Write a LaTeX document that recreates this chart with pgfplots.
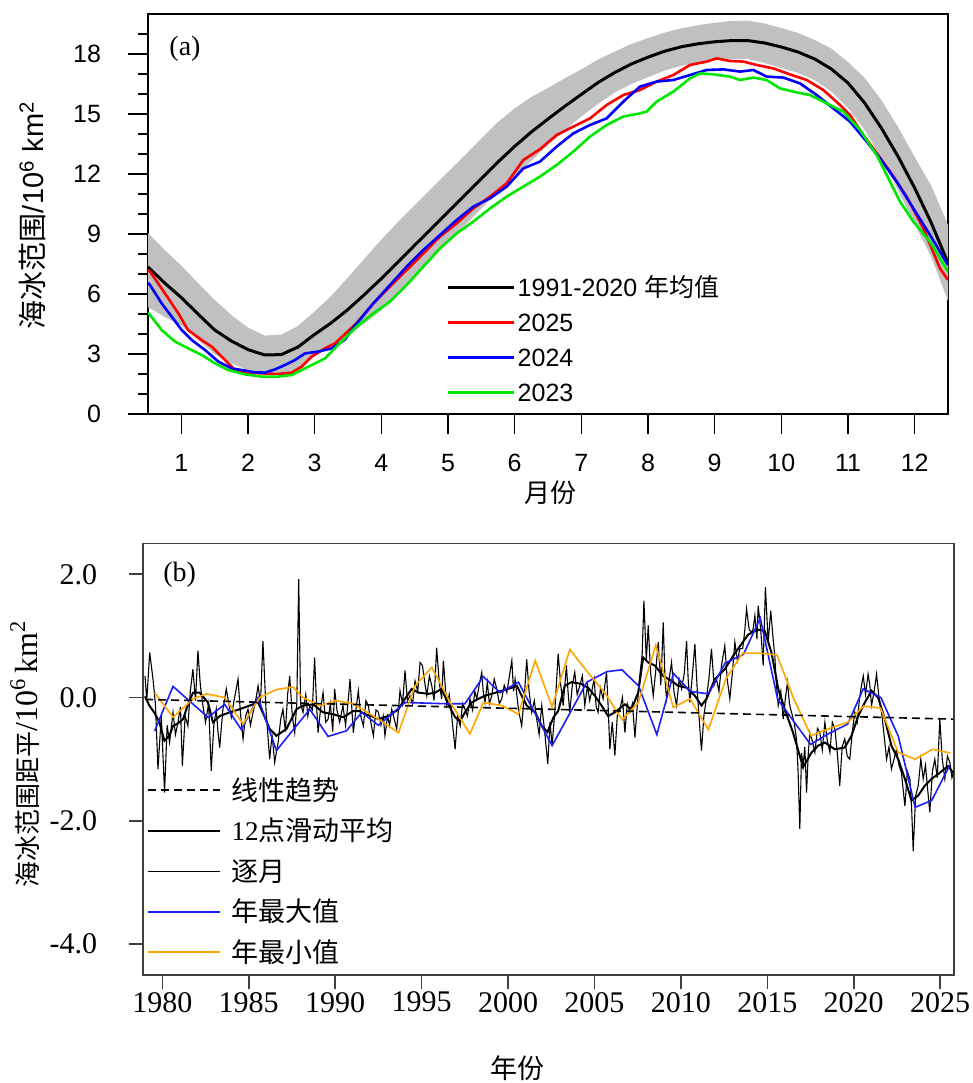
\documentclass[border=0pt]{standalone}
\usepackage{fontspec}
\setmainfont{Liberation Serif}
\setsansfont{Liberation Sans}
\newfontfamily\cjk{Noto Sans CJK SC}
\usepackage{pgfplots}
\pgfplotsset{compat=1.18}
\usepgfplotslibrary{fillbetween}

\definecolor{bandgray}{RGB}{192,192,192}
\definecolor{yred}{RGB}{255,0,0}
\definecolor{yblue}{RGB}{0,0,255}
\definecolor{ygreen}{RGB}{0,232,0}
\definecolor{maxblue}{RGB}{30,30,245}
\definecolor{minorange}{RGB}{255,165,0}

\begin{document}
\begin{tikzpicture}

% (a) daily extent by month
\begin{axis}[
    at={(74pt,334.5pt)}, anchor=south west,
    scale only axis, width=400pt, height=200pt,
    xmin=0.5, xmax=12.5, ymin=0, ymax=20,
    xtick={1,2,...,12}, ytick={0,3,...,18},
    minor ytick={1,2,4,5,7,8,10,11,13,14,16,17,19},
    xtick pos=bottom, ytick pos=left,
    tick align=outside,
    major tick length=10pt, minor tick length=5pt,
    axis line style={line width=1pt},
    tick style={black, line width=0.8pt},
    /pgf/number format/assume math mode=true,
    tick label style={font=\fontsize{12.5}{15}\sffamily},
    xticklabel shift=6.5pt, yticklabel shift=10pt,
    xlabel={月份},
    xlabel style={at={(axis description cs:0.5025,-0.1975)}, anchor=center, font=\fontsize{13}{15}\cjk},
    ylabel={{\cjk 海冰范围}/10\textsuperscript{6} km\textsuperscript{2}},
    ylabel style={at={(axis description cs:-0.144,0.497)}, anchor=center, font=\fontsize{14.5}{16}\sffamily},
    legend style={draw=none, fill=none, inner sep=0pt, outer sep=0pt, row sep=0pt, column sep=1pt,
        at={(axis description cs:0.3734,0.3605)}, anchor=north west,
        font=\fontsize{12.5}{15}\sffamily,
        nodes={inner sep=0pt, text height=13.25pt, text depth=4.25pt}},
    legend cell align=left,
    legend image code/.code={\draw[#1] (0pt,0pt) -- (33pt,0pt);},
]
\addplot[name path=up, draw=none, forget plot] coordinates {
(0.5,9.05)(0.75,8.2)(1,7.42)(1.25,6.55)(1.5,5.7)(1.75,4.95)(2,4.32)(2.25,3.92)(2.5,3.97)(2.75,4.4)
(3,5.13)(3.25,5.91)(3.5,6.83)(3.75,7.78)(4,8.72)(4.25,9.6)(4.5,10.44)(4.75,11.27)(5,12.1)(5.25,12.93)
(5.5,13.77)(5.75,14.6)(6,15.28)(6.25,15.85)(6.5,16.3)(6.75,16.78)(7,17.23)(7.25,17.72)(7.5,18.12)(7.75,18.5)
(8,18.79)(8.25,19.07)(8.5,19.28)(8.75,19.44)(9,19.56)(9.25,19.65)(9.5,19.67)(9.75,19.52)(10,19.3)(10.25,19.05)
(10.5,18.7)(10.75,18.27)(11,17.6)(11.25,16.8)(11.5,15.7)(11.75,14.35)(12,12.85)(12.25,11.4)(12.5,9.45)};
\addplot[name path=lo, draw=none, forget plot] coordinates {
(0.5,5.35)(0.75,4.85)(1,4.42)(1.25,3.7)(1.5,3.0)(1.75,2.55)(2,2.17)(2.25,1.95)(2.5,1.97)(2.75,2.3)
(3,2.88)(3.25,3.41)(3.5,3.93)(3.75,4.53)(4,5.17)(4.25,6.1)(4.5,6.94)(4.75,7.77)(5,8.6)(5.25,9.43)
(5.5,10.27)(5.75,11.1)(6,11.9)(6.25,12.65)(6.5,13.45)(6.75,14.18)(7,14.88)(7.25,15.5)(7.5,16.07)(7.75,16.5)
(8,16.84)(8.25,17.17)(8.5,17.41)(8.75,17.57)(9,17.69)(9.25,17.75)(9.5,17.75)(9.75,17.55)(10,17.3)(10.25,17.05)
(10.5,16.7)(10.75,16.12)(11,15.3)(11.25,14.2)(11.5,12.8)(11.75,11.2)(12,9.5)(12.25,7.85)(12.5,5.65)};
\addplot[bandgray, forget plot] fill between[of=up and lo];

\addplot[black, line width=1.5pt] coordinates {
(0.5,7.35)(0.75,6.55)(1,5.82)(1.25,5.0)(1.5,4.2)(1.75,3.65)(2,3.22)(2.25,2.95)(2.5,2.97)(2.75,3.35)
(3,3.98)(3.25,4.56)(3.5,5.23)(3.75,5.98)(4,6.77)(4.25,7.6)(4.5,8.44)(4.75,9.27)(5,10.1)(5.25,10.93)
(5.5,11.77)(5.75,12.6)(6,13.38)(6.25,14.1)(6.5,14.75)(6.75,15.38)(7,15.98)(7.25,16.57)(7.5,17.07)(7.75,17.5)
(8,17.84)(8.25,18.14)(8.5,18.36)(8.75,18.51)(9,18.61)(9.25,18.67)(9.5,18.67)(9.75,18.55)(10,18.35)(10.25,18.1)
(10.5,17.75)(10.75,17.25)(11,16.55)(11.25,15.55)(11.5,14.3)(11.75,12.88)(12,11.3)(12.25,9.55)(12.5,7.55)};
\addlegendentry{1991-2020 {\cjk 年均值}}

\addplot[yred, line width=1.3pt] coordinates {
(0.5,7.2)(0.53,7.12)(0.755,6.03)(0.955,5.03)(1.1,4.2)(1.305,3.7)(1.455,3.37)(1.655,2.7)(1.805,2.2)(1.955,2.07)
(2.205,2.03)(2.455,2.0)(2.655,2.07)(2.805,2.37)(2.955,2.87)(3.155,3.28)(3.305,3.53)(3.455,4.0)(3.63,4.55)(3.88,5.53)
(4.13,6.37)(4.38,7.2)(4.63,8.03)(4.88,8.87)(5.13,9.53)(5.38,10.28)(5.63,10.87)(5.88,11.53)(6.13,12.7)(6.38,13.24)
(6.63,13.95)(6.88,14.37)(7.13,14.78)(7.38,15.45)(7.63,15.95)(7.88,16.2)(8.13,16.62)(8.38,16.95)(8.63,17.45)(8.88,17.62)
(9.03,17.78)(9.23,17.65)(9.43,17.62)(9.63,17.45)(9.88,17.28)(10.13,16.98)(10.38,16.7)(10.63,16.2)(10.88,15.45)(11.03,14.95)
(11.23,13.95)(11.38,13.28)(11.63,12.12)(11.88,10.87)(12.13,9.28)(12.38,7.28)(12.5,6.7)};
\addlegendentry{2025}

\addplot[yblue, line width=1.3pt] coordinates {
(0.5,6.55)(0.53,6.45)(0.705,5.53)(0.855,4.87)(1.005,4.2)(1.155,3.7)(1.355,3.2)(1.555,2.62)(1.755,2.28)(1.955,2.17)
(2.105,2.08)(2.255,2.07)(2.405,2.23)(2.555,2.45)(2.705,2.7)(2.855,3.03)(3.055,3.12)(3.255,3.28)(3.455,3.72)(3.6,4.4)
(3.88,5.53)(4.13,6.45)(4.38,7.37)(4.63,8.2)(4.88,8.95)(5.13,9.7)(5.38,10.37)(5.63,10.78)(5.88,11.37)(6.13,12.28)
(6.38,12.62)(6.63,13.37)(6.88,14.03)(7.13,14.45)(7.38,14.78)(7.63,15.62)(7.88,16.37)(8.13,16.62)(8.38,16.7)(8.63,16.95)
(8.88,17.2)(9.13,17.23)(9.38,17.12)(9.58,17.2)(9.78,16.87)(10.03,16.82)(10.28,16.53)(10.53,15.95)(10.78,15.28)(11.03,14.62)
(11.28,13.62)(11.48,12.78)(11.73,11.62)(11.98,10.28)(12.23,8.95)(12.5,7.45)};
\addlegendentry{2024}

\addplot[ygreen, line width=1.3pt] coordinates {
(0.5,5.05)(0.53,4.95)(0.705,4.2)(0.905,3.62)(1.105,3.28)(1.305,2.95)(1.505,2.53)(1.705,2.2)(1.955,1.98)(2.205,1.87)
(2.455,1.87)(2.655,1.95)(2.805,2.2)(2.955,2.45)(3.155,2.78)(3.38,3.55)(3.63,4.37)(3.88,5.03)(4.13,5.62)(4.38,6.45)
(4.63,7.37)(4.88,8.28)(5.13,9.03)(5.38,9.62)(5.63,10.28)(5.88,10.87)(6.13,11.37)(6.38,11.87)(6.63,12.45)(6.88,13.12)
(7.13,13.87)(7.38,14.45)(7.63,14.87)(7.88,15.03)(7.98,15.12)(8.13,15.62)(8.38,16.12)(8.63,16.78)(8.78,17.03)(8.98,16.98)
(9.23,16.87)(9.38,16.7)(9.58,16.82)(9.78,16.7)(9.98,16.28)(10.23,16.08)(10.43,15.95)(10.68,15.53)(10.93,15.12)(11.18,14.2)
(11.43,12.95)(11.58,11.95)(11.78,10.62)(11.98,9.62)(12.23,8.62)(12.5,7.12)};
\addlegendentry{2023}

\node[font=\fontsize{14}{16}\selectfont, anchor=center] at (axis description cs:0.04625,0.914) {(a)};
\end{axis}

% (b) monthly anomalies
\begin{axis}[
    at={(71.65pt,54pt)}, anchor=south west,
    scale only axis, width=405.35pt, height=215.8pt,
    xmin=1978.9, xmax=2025.8, ymin=-4.5, ymax=2.5,
    xtick={1980,1985,...,2025}, ytick={-4,-2,0,2},
    yticklabels={-4.0,-2.0,0.0,2.0},
    xtick pos=bottom, ytick pos=left,
    tick align=outside,
    major tick length=7pt,
    axis line style={black!75, line width=0.8pt},
    tick style={black!75, line width=0.8pt},
    /pgf/number format/assume math mode=true,
    /pgf/number format/1000 sep={},
    tick label style={font=\fontsize{15}{18}\selectfont},
    xticklabel shift=-2pt, yticklabel shift=12.5pt,
    xlabel={年份},
    xlabel style={at={(axis description cs:0.461,-0.215)}, anchor=center, font=\fontsize{13.5}{16}\cjk},
    ylabel={{\fontsize{13}{15}\cjk 海冰范围距平}/10\textsuperscript{6}\,km\textsuperscript{2}},
    ylabel style={at={(axis description cs:-0.146,0.512)}, anchor=center, font=\fontsize{16}{18}\selectfont},
    legend style={draw=none, fill=none, inner sep=0pt, outer sep=0pt, row sep=0pt, column sep=5.5pt,
        at={(axis description cs:0.0042,0.4749)}, anchor=north west,
        font=\fontsize{13.5}{16}\selectfont,
        nodes={inner sep=0pt, text height=15.2pt, text depth=5.05pt}},
    legend cell align=left,
    legend image code/.code={\draw[#1] (0pt,0pt) -- (36pt,0pt);},
]
\addlegendimage{black, line width=0.8pt, dash pattern=on 4pt off 2.5pt}
\addlegendentry{{\cjk 线性趋势}}
\addlegendimage{black, line width=1pt}
\addlegendentry{12{\cjk 点滑动平均}}
\addlegendimage{black, line width=0.6pt}
\addlegendentry{{\cjk 逐月}}
\addlegendimage{maxblue, line width=0.8pt}
\addlegendentry{{\cjk 年最大值}}
\addlegendimage{minorange, line width=0.8pt}
\addlegendentry{{\cjk 年最小值}}

% monthly anomaly
\addplot[black, line width=0.55pt, forget plot] coordinates {
(1979.00,0.35)(1979.10,-0.05)(1979.27,0.73)(1979.46,0.30)(1979.60,-0.10)(1979.75,-1.16)(1979.94,-0.30)(1980.13,-1.54)
(1980.28,-0.45)(1980.42,-0.73)(1980.62,-0.24)(1980.76,-0.60)(1980.91,-0.40)(1981.05,-0.15)(1981.16,-1.11)(1981.32,-0.30)
(1981.48,-0.46)(1981.62,0.10)(1981.77,0.46)(1981.92,-0.05)(1982.06,0.76)(1982.20,0.20)(1982.35,-0.13)(1982.50,-0.40)
(1982.68,-0.10)(1982.83,-1.19)(1982.98,-0.45)(1983.12,-0.19)(1983.22,-0.55)(1983.32,-0.81)(1983.50,-0.20)(1983.70,0.14)
(1983.85,-0.10)(1983.99,-0.32)(1984.15,-0.05)(1984.38,0.30)(1984.52,-0.25)(1984.67,-0.67)(1984.82,-0.30)(1984.96,-0.19)
(1985.10,-0.45)(1985.25,-0.24)(1985.40,-0.05)(1985.54,0.19)(1985.68,-0.10)(1985.82,0.92)(1986.00,-0.20)(1986.21,-1.00)
(1986.35,-0.60)(1986.50,-1.05)(1986.70,-0.73)(1986.85,-0.35)(1986.98,-0.19)(1987.12,-0.55)(1987.25,0.05)(1987.37,0.35)
(1987.52,-0.30)(1987.66,-0.57)(1987.78,-0.10)(1987.89,1.92)(1988.00,-0.10)(1988.14,-0.24)(1988.30,0.05)(1988.42,-0.30)
(1988.53,-0.13)(1988.68,-0.20)(1988.81,0.65)(1988.92,-0.10)(1989.01,-0.57)(1989.15,-0.20)(1989.30,0.08)(1989.45,-0.40)
(1989.59,-0.35)(1989.72,-0.10)(1989.86,-0.55)(1989.97,0.14)(1990.10,-0.20)(1990.26,-0.40)(1990.45,-0.13)(1990.60,-0.45)
(1990.72,-0.15)(1990.86,0.30)(1991.05,-0.57)(1991.20,-0.20)(1991.34,0.11)(1991.48,-0.30)(1991.63,-0.46)(1991.78,-0.05)
(1991.92,-0.13)(1992.06,-0.40)(1992.21,-0.62)(1992.36,-0.20)(1992.50,-0.24)(1992.65,-0.45)(1992.78,-0.30)(1992.88,-0.62)
(1993.03,-0.30)(1993.15,-0.45)(1993.27,-0.19)(1993.42,-0.35)(1993.56,-0.51)(1993.66,-0.20)(1993.75,0.11)(1993.90,-0.10)
(1994.04,0.44)(1994.18,-0.05)(1994.33,0.03)(1994.48,-0.10)(1994.62,0.27)(1994.78,0.10)(1994.91,0.57)(1995.05,0.52)
(1995.18,0.25)(1995.30,0.03)(1995.45,0.35)(1995.59,0.19)(1995.72,-0.05)(1995.87,0.81)(1996.02,0.25)(1996.16,-0.02)
(1996.26,0.60)(1996.45,-0.13)(1996.60,0.05)(1996.74,-0.30)(1996.94,-0.84)(1997.08,-0.30)(1997.23,-0.46)(1997.37,-0.10)
(1997.51,-0.19)(1997.65,-0.30)(1997.80,-0.02)(1997.95,-0.20)(1998.08,0.10)(1998.19,-0.02)(1998.33,0.20)(1998.48,0.41)
(1998.58,0.05)(1998.67,-0.08)(1998.80,0.25)(1998.92,-0.10)(1999.06,0.03)(1999.20,0.30)(1999.35,0.14)(1999.50,-0.10)
(1999.64,-0.02)(1999.78,0.20)(1999.93,0.08)(2000.08,0.35)(2000.22,0.60)(2000.32,0.10)(2000.41,0.30)(2000.60,-0.19)
(2000.79,-0.46)(2000.95,0.05)(2001.08,0.62)(2001.22,0.10)(2001.37,-0.24)(2001.52,-0.05)(2001.66,-0.35)(2001.80,-0.60)
(2001.95,-0.13)(2002.10,-0.50)(2002.30,-1.08)(2002.43,-0.40)(2002.55,-0.78)(2002.70,-0.25)(2002.90,0.71)(2003.05,0.20)
(2003.19,-0.13)(2003.38,0.52)(2003.47,0.10)(2003.57,-0.24)(2003.72,0.20)(2003.86,0.41)(2004.00,0.05)(2004.15,0.19)
(2004.30,0.35)(2004.44,-0.13)(2004.60,0.20)(2004.72,-0.05)(2004.83,0.08)(2004.98,0.30)(2005.10,-0.15)(2005.21,-0.24)
(2005.35,0.15)(2005.50,-0.02)(2005.70,0.41)(2005.80,-0.20)(2005.89,-0.84)(2006.03,-0.40)(2006.18,-0.94)(2006.32,-0.30)
(2006.47,-0.19)(2006.62,0.00)(2006.76,-0.57)(2006.90,-0.10)(2007.05,-0.24)(2007.20,-0.10)(2007.34,-0.65)(2007.50,-0.05)
(2007.62,0.35)(2007.76,0.70)(2007.86,1.57)(2008.00,0.60)(2008.11,1.17)(2008.25,0.40)(2008.40,0.03)(2008.55,0.45)
(2008.69,0.90)(2008.84,0.20)(2008.98,1.22)(2009.08,0.30)(2009.17,-0.02)(2009.32,0.30)(2009.46,0.57)(2009.60,0.10)
(2009.75,-0.13)(2009.90,0.30)(2010.04,0.14)(2010.20,0.40)(2010.33,0.92)(2010.42,0.30)(2010.52,-0.08)(2010.66,0.35)
(2010.81,0.87)(2010.95,0.10)(2011.10,-0.51)(2011.19,-0.86)(2011.33,-0.30)(2011.48,0.00)(2011.62,0.30)(2011.77,0.79)
(2011.92,0.20)(2012.06,0.30)(2012.20,0.10)(2012.35,0.52)(2012.54,0.84)(2012.68,0.30)(2012.83,-0.02)(2012.98,0.40)
(2013.12,0.90)(2013.27,0.60)(2013.41,0.79)(2013.58,0.80)(2013.70,1.10)(2013.80,1.44)(2013.95,1.10)(2014.09,1.06)
(2014.18,1.11)(2014.28,1.33)(2014.40,0.95)(2014.47,1.49)(2014.62,1.10)(2014.76,0.52)(2014.89,1.79)(2015.05,0.90)
(2015.20,1.41)(2015.32,1.00)(2015.43,0.68)(2015.53,0.20)(2015.63,-0.13)(2015.78,0.10)(2015.92,-0.35)(2016.05,0.00)
(2016.17,0.25)(2016.28,-0.10)(2016.40,-0.24)(2016.55,-0.40)(2016.69,-0.67)(2016.78,-1.20)(2016.88,-2.13)(2016.98,-0.90)
(2017.07,-1.11)(2017.17,-0.80)(2017.27,-1.54)(2017.37,-0.90)(2017.46,-0.57)(2017.60,-0.70)(2017.75,-0.89)(2017.90,-0.50)
(2018.04,-0.57)(2018.18,-0.85)(2018.33,-0.40)(2018.47,-0.70)(2018.62,-0.89)(2018.76,-0.40)(2018.91,-0.51)(2019.05,-0.90)
(2019.19,-1.43)(2019.33,-0.80)(2019.48,-0.67)(2019.62,-0.95)(2019.77,-1.00)(2019.92,-0.55)(2020.06,-0.24)(2020.20,-0.40)
(2020.32,-0.05)(2020.42,0.15)(2020.55,0.35)(2020.68,0.05)(2020.83,0.38)(2020.93,0.20)(2021.03,-0.13)(2021.18,0.10)
(2021.32,0.38)(2021.46,0.00)(2021.61,-0.24)(2021.75,-0.60)(2021.90,-1.00)(2022.04,-0.80)(2022.18,-1.16)(2022.33,-1.00)
(2022.47,-0.84)(2022.62,-1.10)(2022.76,-1.22)(2022.86,-1.50)(2022.96,-1.76)(2023.10,-1.20)(2023.25,-1.32)(2023.35,-1.80)
(2023.44,-2.49)(2023.58,-1.60)(2023.73,-1.43)(2023.88,-1.00)(2024.02,-1.32)(2024.15,-1.10)(2024.28,-1.50)(2024.40,-1.86)
(2024.55,-1.20)(2024.69,-1.00)(2024.83,-1.30)(2024.98,-0.35)(2025.12,-1.00)(2025.27,-1.32)(2025.42,-0.95)(2025.56,-1.05)
(2025.68,-1.30)(2025.78,-1.20)};

% 12-point running mean
\addplot[black, line width=1pt, forget plot] coordinates {
(1979.00,0.02)(1979.25,-0.13)(1979.55,-0.25)(1979.83,-0.40)(1980.12,-0.70)(1980.41,-0.62)(1980.62,-0.46)(1980.90,-0.42)
(1981.20,-0.35)(1981.50,-0.10)(1981.78,0.08)(1982.16,0.08)(1982.64,-0.08)(1982.93,-0.40)(1983.32,-0.30)(1983.90,-0.24)
(1984.47,-0.19)(1985.05,-0.13)(1985.54,-0.08)(1985.90,-0.30)(1986.21,-0.51)(1986.60,-0.62)(1987.18,-0.51)(1987.76,-0.19)
(1988.14,-0.13)(1988.72,-0.11)(1989.30,-0.24)(1989.88,-0.27)(1990.46,-0.32)(1991.04,-0.22)(1991.40,-0.22)(1991.73,-0.27)
(1992.10,-0.30)(1992.50,-0.35)(1993.08,-0.30)(1993.66,-0.19)(1994.04,-0.02)(1994.43,0.14)(1994.81,0.08)(1995.39,0.06)
(1995.78,0.08)(1996.16,0.14)(1996.55,-0.11)(1996.94,-0.32)(1997.23,-0.38)(1997.51,-0.24)(1997.90,-0.08)(1998.29,-0.02)
(1998.67,0.03)(1999.06,0.06)(1999.64,0.11)(2000.22,0.16)(2000.51,0.19)(2000.79,0.03)(2001.08,-0.13)(2001.57,-0.24)
(2001.95,-0.46)(2002.28,-0.56)(2002.63,-0.32)(2002.90,-0.22)(2003.28,0.19)(2003.67,0.25)(2004.25,0.22)(2004.63,0.16)
(2005.02,0.03)(2005.41,-0.13)(2005.79,-0.30)(2006.18,-0.24)(2006.76,-0.11)(2007.14,-0.19)(2007.53,0.08)(2007.82,0.65)
(2008.11,0.57)(2008.49,0.52)(2008.98,0.35)(2009.46,0.27)(2009.84,0.19)(2010.33,0.16)(2010.81,0.03)(2011.19,-0.13)
(2011.48,-0.02)(2011.97,0.30)(2012.54,0.46)(2013.03,0.68)(2013.51,0.87)(2013.89,1.02)(2014.28,1.08)(2014.47,1.10)
(2014.85,1.08)(2015.24,0.73)(2015.63,0.14)(2016.01,-0.19)(2016.49,-0.57)(2017.07,-1.13)(2017.56,-0.89)(2017.94,-0.78)
(2018.33,-0.73)(2018.91,-0.84)(2019.48,-0.81)(2019.87,-0.62)(2020.26,-0.30)(2020.64,-0.08)(2021.03,0.11)(2021.41,0.00)
(2021.80,-0.35)(2022.18,-0.78)(2022.57,-1.00)(2022.96,-1.32)(2023.34,-1.67)(2023.73,-1.59)(2024.11,-1.43)(2024.50,-1.32)
(2024.98,-1.22)(2025.46,-1.11)(2025.75,-1.22)};

% annual maximum anomaly
\addplot[maxblue, line width=0.8pt, forget plot] coordinates {
(1979.56,-0.54)(1980.62,0.18)(1982.64,-0.32)(1983.61,-0.11)(1984.57,-0.52)(1985.54,0.00)(1986.60,-0.86)(1988.53,-0.19)
(1989.59,-0.63)(1990.65,-0.54)(1991.54,-0.24)(1992.50,-0.45)(1994.04,-0.08)(1996.36,-0.10)(1997.51,-0.10)(1998.57,0.34)
(1999.54,0.08)(2000.60,0.25)(2002.55,-0.78)(2004.56,0.25)(2005.72,0.42)(2006.59,0.45)(2007.55,0.19)(2008.61,-0.60)
(2009.57,0.39)(2010.54,0.10)(2011.60,0.06)(2012.56,0.56)(2013.62,0.70)(2014.59,1.29)(2015.60,-0.03)(2017.50,-0.76)
(2018.52,-0.59)(2019.65,-0.43)(2020.55,0.14)(2021.57,0.00)(2022.58,-0.63)(2023.55,-1.78)(2024.51,-1.67)(2025.55,-1.10)};

% annual minimum anomaly
\addplot[minorange, line width=0.8pt, forget plot] coordinates {
(1979.56,0.08)(1980.62,-0.32)(1981.78,-0.02)(1982.55,0.06)(1983.61,0.00)(1984.67,-0.43)(1985.63,0.00)(1986.60,0.13)
(1987.56,0.17)(1988.14,0.00)(1989.11,-0.13)(1990.07,-0.05)(1991.04,-0.10)(1992.50,-0.35)(1993.66,-0.57)(1994.62,0.19)
(1995.59,0.49)(1996.60,-0.05)(1997.80,-0.59)(1998.57,-0.08)(1999.64,-0.13)(2000.60,-0.27)(2001.57,0.60)(2002.55,-0.15)
(2003.58,0.78)(2004.64,0.40)(2005.62,0.07)(2006.60,-0.36)(2007.54,-0.08)(2008.55,0.85)(2009.56,-0.16)(2010.53,-0.02)
(2011.59,-0.52)(2012.60,0.30)(2013.57,0.72)(2014.57,0.72)(2015.56,0.69)(2016.50,0.00)(2017.52,-0.62)(2018.60,-0.50)
(2019.65,-0.40)(2020.57,-0.14)(2021.55,-0.17)(2022.57,-0.89)(2023.55,-1.00)(2024.55,-0.84)(2025.60,-0.90)};

% linear trend
\addplot[black, line width=0.8pt, dash pattern=on 4pt off 2.5pt, forget plot] coordinates {
(1979.00,-0.03)(2025.75,-0.35)};

\node[font=\fontsize{14}{16}\selectfont, anchor=center] at (axis description cs:0.0449,0.927) {(b)};
\end{axis}

\pgfresetboundingbox
\path[use as bounding box] (0,0) rectangle (486.5pt,541.5pt);
\end{tikzpicture}
\end{document}
